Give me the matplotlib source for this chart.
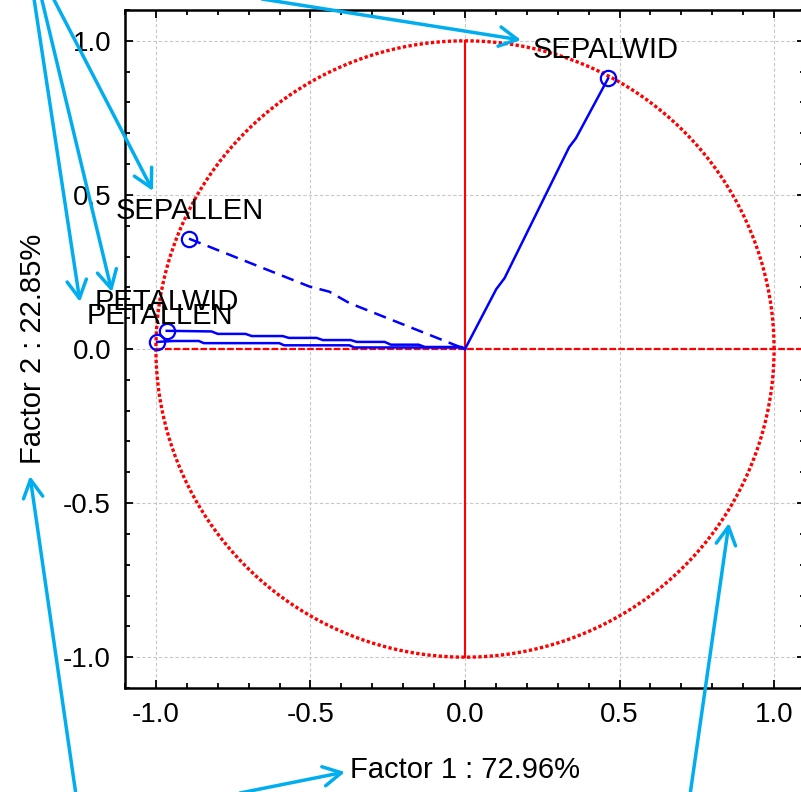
import numpy as np
import matplotlib
matplotlib.use("Agg")
import matplotlib.pyplot as plt
from matplotlib.ticker import MultipleLocator

plt.rcParams['font.family'] = ['Liberation Sans', 'DejaVu Sans']

# variable loadings on factor 1 / factor 2 (end points of the vectors)
variables = ['SEPALLEN', 'SEPALWID', 'PETALLEN', 'PETALWID']
f1 = [-0.893, 0.463, -0.996, -0.965]
f2 = [0.358, 0.878, 0.023, 0.059]

# traced paths from origin to each point
sepallen_x = [-0.893, -0.504, -0.439, -0.374, 0.0]
sepallen_y = [0.358, 0.203, 0.186, 0.149, 0.0]
sepalwid_x = [0.463, 0.359, 0.337, 0.128, 0.101, 0.0]
sepalwid_y = [0.878, 0.684, 0.655, 0.230, 0.194, 0.0]
petallen_x = [-0.996, -0.942, -0.861, -0.845, -0.601, -0.585, -0.374, -0.358, -0.019, 0.0]
petallen_y = [0.023, 0.026, 0.026, 0.019, 0.019, 0.012, 0.012, 0.005, 0.005, 0.0]
petalwid_x = [-0.965, -0.82, -0.80, -0.71, -0.69, -0.59, -0.57, -0.48, -0.46,
              -0.37, -0.35, -0.26, -0.24, -0.15, -0.13, -0.01, 0.0]
petalwid_y = [0.059, 0.057, 0.049, 0.049, 0.042, 0.042, 0.036, 0.036, 0.029,
              0.029, 0.023, 0.023, 0.014, 0.014, 0.0065, 0.0065, 0.0]

# label anchors (left edge, vertical centre)
label_x = [-1.130, 0.219, -1.224, -1.198]
label_y = [0.448, 0.970, 0.108, 0.153]

xlabel = 'Factor 1 : 72.96%'
ylabel = 'Factor 2 : 22.85%'

# overlay arrows, image pixels (tail -> tip)
arrow_tail = [(50, -8), (40, -8), (33, -8), (262, -1), (76, 795), (240, 793), (690, 795)]
arrow_tip = [(153, 191), (112, 292), (80, 302), (521, 40), (30, 476), (345, 772), (729, 523)]

W, H = 801, 792
fig = plt.figure(figsize=(W / 100, H / 100), dpi=100)
ax = fig.add_axes([125 / W, 1 - 688 / H, 680 / W, 678 / H])

ax.set_xlim(-1.1, 1.1)
ax.set_ylim(-1.1, 1.1)

# unit circle
t = np.linspace(0, 2 * np.pi, 400)
ax.plot(np.cos(t), np.sin(t), color='red', lw=2.4, ls=(0, (1, 0.7)), zorder=2)
ax.plot([-1, 1.1], [0, 0], color='red', lw=1.6, ls=(0, (3, 1)), zorder=2)
ax.plot([0, 0], [-1, 1], color='red', lw=1.5, zorder=2)

blue = '#0000ff'
ax.plot(sepallen_x, sepallen_y, color=blue, lw=1.8, ls=(0, (5, 3)), zorder=3)
ax.plot(sepalwid_x, sepalwid_y, color=blue, lw=1.8, zorder=3)
ax.plot(petallen_x, petallen_y, color=blue, lw=1.8, zorder=3)
ax.plot(petalwid_x, petalwid_y, color=blue, lw=1.8, zorder=3)
ax.plot(f1, f2, 'o', mfc='none', mec=blue, mew=1.6, ms=11, zorder=4)

for name, x, y in zip(variables, label_x, label_y):
    ax.text(x, y, name, fontsize=21, ha='left', va='center', zorder=5)

ax.xaxis.set_major_locator(MultipleLocator(0.5))
ax.yaxis.set_major_locator(MultipleLocator(0.5))
ax.xaxis.set_minor_locator(MultipleLocator(0.1))
ax.yaxis.set_minor_locator(MultipleLocator(0.1))
ax.xaxis.set_major_formatter(lambda v, p: '%.1f' % v)
ax.yaxis.set_major_formatter(lambda v, p: '%.1f' % v)
ax.tick_params(which='both', direction='in', top=True, right=True, width=1.3)
ax.tick_params(which='major', length=6, labelsize=20, pad=10)
ax.tick_params(which='minor', length=3.5)
ax.grid(True, which='major', color='#c8c8c8', lw=0.8, ls=(0, (3, 2)), zorder=0)
for s in ax.spines.values():
    s.set_linewidth(1.8)

ax.set_xlabel(xlabel, fontsize=21, labelpad=20)
ax.set_ylabel(ylabel, fontsize=21, labelpad=12)

cyan = '#00aeef'
for (x0, y0), (x1, y1) in zip(arrow_tail, arrow_tip):
    ax.annotate('', xy=(x1, H - y1), xytext=(x0, H - y0),
                xycoords='figure pixels', textcoords='figure pixels',
                annotation_clip=False,
                arrowprops=dict(arrowstyle='->,head_length=1.3,head_width=0.7',
                                color=cyan, lw=2.5, shrinkA=0, shrinkB=0))

fig.savefig('out.png', dpi=100)
